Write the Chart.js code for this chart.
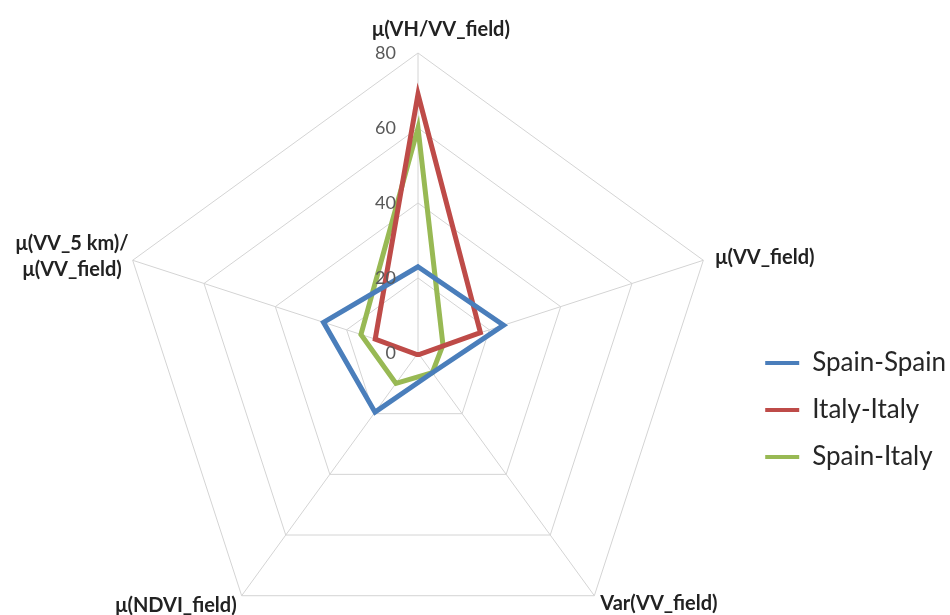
<!DOCTYPE html>
<html>
<head>
<meta charset="utf-8">
<script src="https://cdn.jsdelivr.net/npm/chart.js@4/dist/chart.umd.min.js"></script>
<style>
html,body{margin:0;padding:0;background:#fff;overflow:hidden}
#wrap{position:relative;width:950px;height:615px}
</style>
</head>
<body>
<div id="wrap"><canvas id="c"></canvas></div>
<script>
// ---- data ----
const categories = ['μ(VH/VV_field)', 'μ(VV_field)', 'Var(VV_field)', 'μ(NDVI_field)', ['μ(VV_5 km)/', 'μ(VV_field)']];
const seriesNames = ['Spain-Spain', 'Italy-Italy', 'Spain-Italy'];
const spainSpain = [23, 24, 6.5, 19.5, 26.5];
const italyItaly = [69, 17.5, 0.5, 0.5, 12];
const spainItaly = [60, 7, 6.5, 10, 16];
const axisMin = 0, axisMax = 80, axisStep = 20;

// ---- styles ----
const colors = ['#4A7EBB', '#BE4B48', '#98B954'];
const FONT = 'Lato';
const labelFont = 'bold 20px ' + FONT;
const tickFont = '18px ' + FONT;
const textColor = '#222222';
const tickColor = '#595959';
const gridColor = '#D4D4D4';

// label placement relative to the outer vertex of each axis
const labelPlace = [
  {dx: 23, dy: -24, align: 'center'},
  {dx: 12, dy: -3, align: 'left'},
  {dx: 6, dy: 7, align: 'left'},
  {dx: -5, dy: 9, align: 'right'},
  {dx: -4, dy: -4, align: 'block'}
];

const geometry = {cx: 418, cy: 353, r: 300};

const overlay = {
  id: 'overlay',
  afterLayout(chart) {
    const s = chart.scales.r;
    s.xCenter = geometry.cx;
    s.yCenter = geometry.cy;
    s.drawingArea = geometry.r;
  },
  afterDatasetsDraw(chart) {
    const s = chart.scales.r;
    const ctx = chart.ctx;
    ctx.save();
    // tick labels
    ctx.font = tickFont;
    ctx.fillStyle = tickColor;
    ctx.textAlign = 'right';
    ctx.textBaseline = 'alphabetic';
    const tcap = 18 * 0.72;
    s.ticks.forEach(t => {
      const d = s.getDistanceFromCenterForValue(t.value);
      ctx.fillText(t.label, s.xCenter - 22, s.yCenter - d + tcap / 2);
    });
    // point labels
    ctx.font = labelFont;
    ctx.fillStyle = textColor;
    const cap = 20 * 0.72;
    const outer = s.getDistanceFromCenterForValue(s.max);
    categories.forEach((lab, i) => {
      const p = s.getPointPosition(i, outer);
      const pl = labelPlace[i];
      const x = p.x + pl.dx, y = p.y + pl.dy;
      if (Array.isArray(lab)) {
        const w = Math.max(...lab.map(l => ctx.measureText(l).width));
        ctx.textAlign = 'center';
        const lh = 26;
        const y0 = y - (lab.length - 1) * lh / 2;
        lab.forEach((l, k) => ctx.fillText(l, x - w / 2, y0 + k * lh + cap / 2));
      } else {
        ctx.textAlign = pl.align;
        ctx.fillText(lab, x, y + cap / 2);
      }
    });
    ctx.restore();
  }
};

const seriesValues = [spainSpain, italyItaly, spainItaly];
const datasets = seriesNames.map((n, i) => ({
  label: n,
  data: seriesValues[i],
  borderColor: colors[i],
  backgroundColor: colors[i],
  borderWidth: 5,
  borderJoinStyle: 'miter',
  pointRadius: 0,
  pointHoverRadius: 0,
  fill: false,
  tension: 0,
  clip: false
}));

new Chart(document.getElementById('c'), {
  type: 'radar',
  data: {labels: categories, datasets},
  plugins: [overlay],
  options: {
    responsive: true,
    maintainAspectRatio: false,
    animation: false,
    layout: {padding: {top: 205, right: -6, bottom: 0, left: 0}},
    scales: {
      r: {
        min: axisMin,
        max: axisMax,
        ticks: {stepSize: axisStep, display: false},
        grid: {color: gridColor, lineWidth: 1, circular: false},
        angleLines: {display: true, color: gridColor, lineWidth: 1},
        pointLabels: {display: false}
      }
    },
    plugins: {
      tooltip: {enabled: false},
      legend: {
        position: 'right',
        labels: {
          font: {family: FONT, size: 26},
          color: '#262626',
          boxWidth: 34,
          boxHeight: 4,
          padding: 21,
          generateLabels(chart) {
            return Chart.defaults.plugins.legend.labels.generateLabels(chart).map(it => {
              it.fillStyle = it.strokeStyle;
              it.lineWidth = 0;
              return it;
            });
          }
        }
      }
    }
  }
});
</script>
</body>
</html>
